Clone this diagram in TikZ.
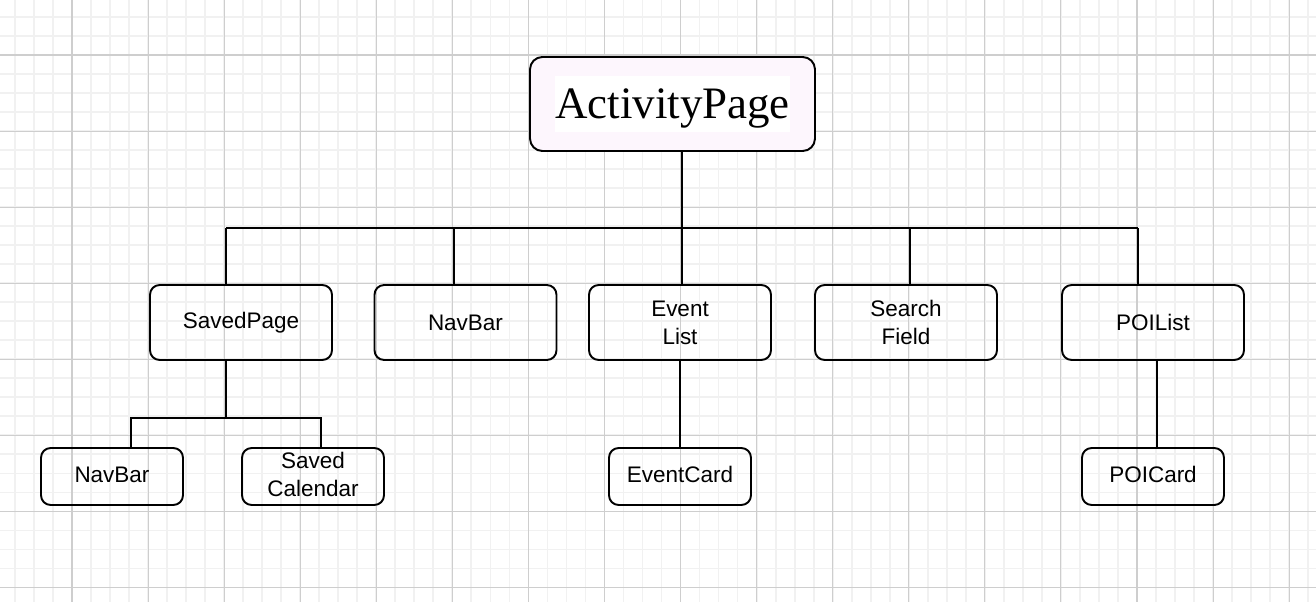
\documentclass[tikz,border=0pt]{standalone}
\usepackage{fontspec}
\setmainfont{Liberation Sans}
\newfontfamily\titlefont{Liberation Serif}
\definecolor{minorline}{RGB}{241,241,241}
\definecolor{majorline}{RGB}{206,206,206}
\definecolor{titlefill}{RGB}{253,246,253}
\tikzset{
 box/.style={draw, line width=1.1pt, rounded corners=5.5pt, align=center, inner sep=0pt, font=\fontsize{12.8}{16}\selectfont},
 midbox/.style={box, minimum width=3.64cm, minimum height=1.5cm},
 smallbox/.style={box, minimum width=2.84cm, minimum height=1.14cm},
 titlebox/.style={box, fill=titlefill, rounded corners=7pt, minimum width=5.7cm, minimum height=1.88cm},
 link/.style={line width=1.1pt},
}
\begin{document}
\begin{tikzpicture}[x=0.02cm, y=-0.02cm]
\useasboundingbox (0,0) rectangle (1316,602);
\fill[white] (0,0) rectangle (1316,602);

\begin{scope}
\clip (0,0) rectangle (1316,602);
\foreach \i in {0,1,2,..., 70}
\draw[minorline, line width=1pt] ({-4.07+19.0175*\i},0) -- ++(0,602);
\foreach \i in {0,1,2,..., 32}
\draw[minorline, line width=1pt] (0,{-2.05+19.0175*\i}) -- ++(1316,0);
\foreach \i in {0,1,2,..., 16}
\draw[majorline, line width=0.6pt] ({72+76.07*\i},0) -- ++(0,602);
\foreach \i in {0,1,2,..., 7}
\draw[majorline, line width=0.6pt] (0,{55+76.07*\i}) -- ++(1316,0);
\end{scope}

\node[titlebox] (activity) at (672.5,104) {};
\node[fill=white, inner xsep=0pt, text depth=0pt, minimum height=1.12cm, font=\titlefont\fontsize{25.6}{30}\selectfont] (activitylabel) at (activity) {ActivityPage};

\node[midbox] (saved) at (241,322.5) {SavedPage};
\node[midbox] (navbar) at (465.5,322.5) {NavBar};
\node[midbox] (eventlist) at (680,322.5) {Event\\List};
\node[midbox] (search) at (906,322.5) {Search\\Field};
\node[midbox] (poilist) at (1153,322.5) {POIList};

\node[smallbox] (subnav) at (112,476.5) {\raisebox{2pt}{NavBar}};
\node[smallbox] (calendar) at (313,476.5) {\raisebox{3pt}{\begin{tabular}{@{}c@{}}Saved\\Calendar\end{tabular}}};
\node[smallbox] (eventcard) at (680,476.5) {\raisebox{2pt}{EventCard}};
\node[smallbox] (poicard) at (1153,476.5) {\raisebox{2pt}{POICard}};

\coordinate (hub) at (682,228);
\coordinate (b1) at (226,228);
\coordinate (b2) at (454,228);
\coordinate (b3) at (682,228);
\coordinate (b4) at (910,228);
\coordinate (b5) at (1138,228);
\draw[link] (activity.south -| hub) -- (hub);
\draw[link] (b1) -- (b5);
\draw[link] (b1) -- (b1 |- saved.north);
\draw[link] (b2) -- (b2 |- navbar.north);
\draw[link] (b3) -- (b3 |- eventlist.north);
\draw[link] (b4) -- (b4 |- search.north);
\draw[link] (b5) -- (b5 |- poilist.north);

\coordinate (s0) at (226,418);
\coordinate (s1) at (131,418);
\coordinate (s2) at (321,418);
\draw[link] (saved.south -| s0) -- (s0);
\draw[link] (s1 |- subnav.north) -- (s1) -- (s2) -- (s2 |- calendar.north);

\draw[link] (eventlist.south) -- (eventcard.north);
\coordinate (p) at (1157,400);
\draw[link] (poilist.south -| p) -- (poicard.north -| p);
\end{tikzpicture}
\end{document}
